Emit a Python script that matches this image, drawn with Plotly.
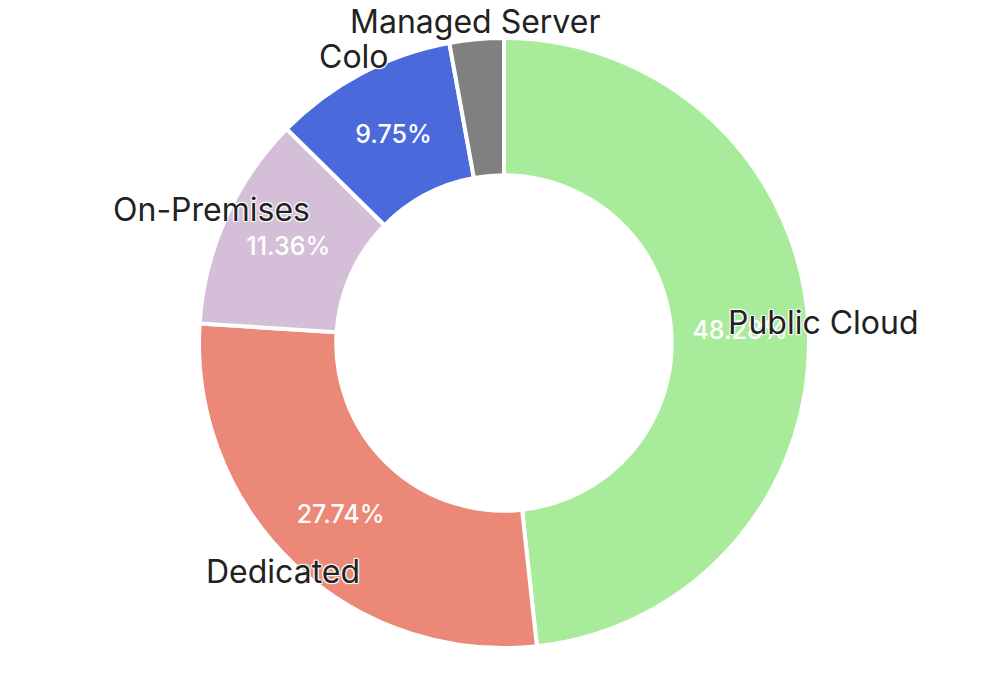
import numpy as np
import plotly.graph_objects as go

labels = ["Public Cloud", "Dedicated", "On-Premises", "Colo", "Managed Server"]
values = [48.28, 27.74, 11.36, 9.75, 2.87]
colors = ["#a8eb9a", "#eb8877", "#d5bed8", "#4a69db", "#808080"]
show_pct = [True, True, True, True, False]

W, H = 1004, 674
mt, mb, ml, mr = 30, 34, 0, 12
pw, ph = W - ml - mr, H - mt - mb
outer = min(pw, ph) / 2

fig = go.Figure()
fig.add_trace(go.Pie(
    labels=labels,
    values=values,
    hole=0.55,
    sort=False,
    direction="clockwise",
    rotation=0,
    marker=dict(colors=colors, line=dict(color="white", width=4)),
    texttemplate=["%{percent:.2%}" if s else "" for s in show_pct],
    textposition="inside",
    insidetextorientation="horizontal",
    textfont=dict(family="Inter", size=25, color="white", weight=500),
    hoverinfo="label+percent",
    showlegend=False,
))

# names sit on the outer rim, at the middle angle of each slice
frac = np.array(values) / sum(values)
mid = (np.cumsum(frac) - frac / 2) * 2 * np.pi
r_lab = outer * 1.05
for name, a in zip(labels, mid):
    fig.add_annotation(
        x=0.5 + r_lab * np.sin(a) / pw,
        y=0.5 + r_lab * np.cos(a) / ph + 3 / ph,
        xref="paper", yref="paper",
        text=name, showarrow=False,
        xanchor="center", yanchor="middle",
        font=dict(family="Inter", size=32, color="#222222",
                  shadow="1px 1px 1px white, -1px -1px 1px white, 1px -1px 1px white, -1px 1px 1px white"),
    )

fig.update_layout(
    width=W, height=H,
    margin=dict(t=mt, b=mb, l=ml, r=mr),
    paper_bgcolor="white",
    plot_bgcolor="white",
)

fig.write_html("out.html")
